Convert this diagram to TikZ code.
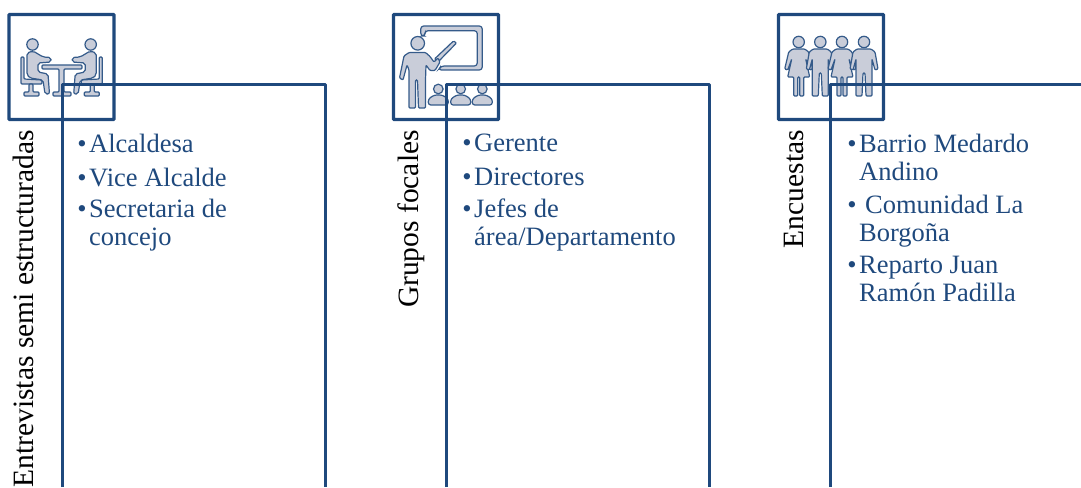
\documentclass[tikz,border=0pt]{standalone}
\usepackage{fontspec}
\setmainfont{Liberation Serif}
\definecolor{azul}{HTML}{1F497D}
\definecolor{gris}{HTML}{C9CDD9}
\tikzset{
    caja/.style={draw=azul,line width=3.4pt,rounded corners=0.8pt},
    marco/.style={draw=azul,line width=3pt,line join=round},
    icono/.style={draw=azul!90!white,fill=gris,line width=1.2pt,rounded corners=1pt},
    titulo/.style={rotate=90,anchor=base east,inner sep=0pt,font=\fontsize{29.5}{32}\selectfont},
    lista/.style={anchor=north west,inner sep=0pt,align=left,text=azul,font=\fontsize{26.5}{28}\selectfont},
    sentado/.pic={
        \draw[icono] (32.5,44.5) circle (5.7);
        \draw[icono] (21,57)--(24,57)--(24,79)--(42,80)--(42,84)--(21,84)--cycle;
        \draw[icono] (29,84)--(33,84)--(33,92)--(39,92)--(39,96)--(24,96)--(24,92)--(29,92)--cycle;
        \draw[icono,rounded corners=2pt] (27,53)--(33,51)--(43,57)--(51,57.5)--(51,62)--(38,63)--(38,72)--(48,74)--(49.5,94)--(45,94)--(43,80)--(30,78)--(27,75)--cycle;
    },
    persona/.pic={
        \draw[icono] (0,-5) circle (5.7);
        \draw[icono] (-7,2)--(7,2)--(11,5)--(14,22)--(11,23)--(8,12)--(8,49)--(2,49)--(1,26)--(-1,26)--(-2,49)--(-8,49)--(-8,12)--(-11,23)--(-14,22)--(-11,5)--cycle;
    },
    mujer/.pic={
        \draw[icono] (0,-5) circle (5.7);
        \draw[icono] (-6,2)--(6,2)--(10,5)--(14,22)--(11,23)--(7,12)--(11,30)--(5,30)--(5,49)--(1,49)--(1,30)--(-1,30)--(-1,49)--(-5,49)--(-5,30)--(-11,30)--(-7,12)--(-11,23)--(-14,22)--(-10,5)--cycle;
    },
    alumno/.pic={
        \draw[icono] (0,-6) circle (4.8);
        \draw[icono,rounded corners=2.5pt] (-10,10)--(-10,4)--(-4,0)--(4,0)--(10,4)--(10,10)--cycle;
    },
}
\begin{document}
\begin{tikzpicture}[x=1pt,y=-1pt]
    \useasboundingbox (0,0) rectangle (1081,487);

    % entrevistas
    \node[caja,minimum width=105pt,minimum height=105pt] (caja1) at (61.5,67) {};
    \pic at (0,0) {sentado};
    \pic[xscale=-1] at (123.2,0) {sentado};
    \draw[icono] (42,65)--(82,65)--(82,69)--(64,69)--(64,92)--(71,92)--(71,96)--(53,96)--(53,92)--(59,92)--(59,69)--(42,69)--cycle;

    % grupos focales
    \node[caja,minimum width=105pt,minimum height=105pt] (caja2) at (446,67) {};
    \draw[icono] (417.7,43.3) circle (6.8);
    \draw[icono,rounded corners=3pt] (420.7,26)--(482.3,26)--(482.3,70)--(438.3,70)--(441,66)--(477.3,66)--(477.3,30.7)--(425,30.7)--(425,36)--(420.7,36)--cycle;
    \draw[icono] (434.5,59)--(453.5,41)--(456.5,43)--(438,62)--cycle;
    \draw[icono] (399.5,78)--(404,56)--(409,52.5)--(425.5,52.5)--(430,56.5)--(434,62)--(438,58)--(440,62)--(435,70.5)--(430,70.5)--(426,65)--(425.5,80)--(425.5,108)--(418.5,108)--(417.5,80)--(415.5,80)--(415.5,108)--(409,108)--(409,70)--(407,65)--(403,80)--cycle;
    \pic at (438.3,95) {alumno};
    \pic at (460.7,95) {alumno};
    \pic at (482.3,95) {alumno};

    % encuestas
    \node[caja,minimum width=105pt,minimum height=105pt] (caja3) at (831,67) {};
    \pic at (798.7,47) {mujer};
    \pic at (820.3,47) {persona};
    \pic at (842,47) {mujer};
    \pic at (864,47) {persona};

    % esquinas de los marcos
    \coordinate (a1) at (62,487);
    \coordinate (a2) at (62,84);
    \coordinate (a3) at (325,84);
    \coordinate (a4) at (325,487);
    \coordinate (b1) at (446,487);
    \coordinate (b2) at (446,84);
    \coordinate (b3) at (709,84);
    \coordinate (b4) at (709,487);
    \coordinate (c1) at (830.5,487);
    \coordinate (c2) at (830.5,84);
    \coordinate (c3) at (1081,84);
    \draw[marco] (a1)--(a2)--(a3)--(a4);
    \draw[marco] (b1)--(b2)--(b3)--(b4);
    \draw[marco] (c1)--(c2)--(c3);

    \node[titulo] (t1) at (33,130) {Entrevistas semi estructuradas};
    \node[titulo] (t2) at (418,130) {Grupos focales};
    \node[titulo] (t3) at (803,130) {Encuestas};

    \node[lista] (l1) at (89,134) {\llap{•\hspace{2.5pt}}Alcaldesa};
    \node[lista] (l2) at (89,168) {\llap{•\hspace{2.5pt}}Vice Alcalde};
    \node[lista] (l3) at (89,199) {\llap{•\hspace{2.5pt}}Secretaria de\\concejo};

    \node[lista] (l4) at (474,134) {\llap{•\hspace{2.5pt}}Gerente};
    \node[lista] (l5) at (474,168) {\llap{•\hspace{2.5pt}}Directores};
    \node[lista] (l6) at (474,199) {\llap{•\hspace{2.5pt}}Jefes de\\área/Departamento};

    \node[lista] (l7) at (859,134) {\llap{•\hspace{2.5pt}}Barrio Medardo\\Andino};
    \node[lista] (l8) at (859,195) {\llap{•\hspace{2.5pt}}\hspace{6pt}Comunidad La\\Borgoña};
    \node[lista] (l9) at (859,256) {\llap{•\hspace{2.5pt}}Reparto Juan\\Ramón Padilla};
\end{tikzpicture}
\end{document}
